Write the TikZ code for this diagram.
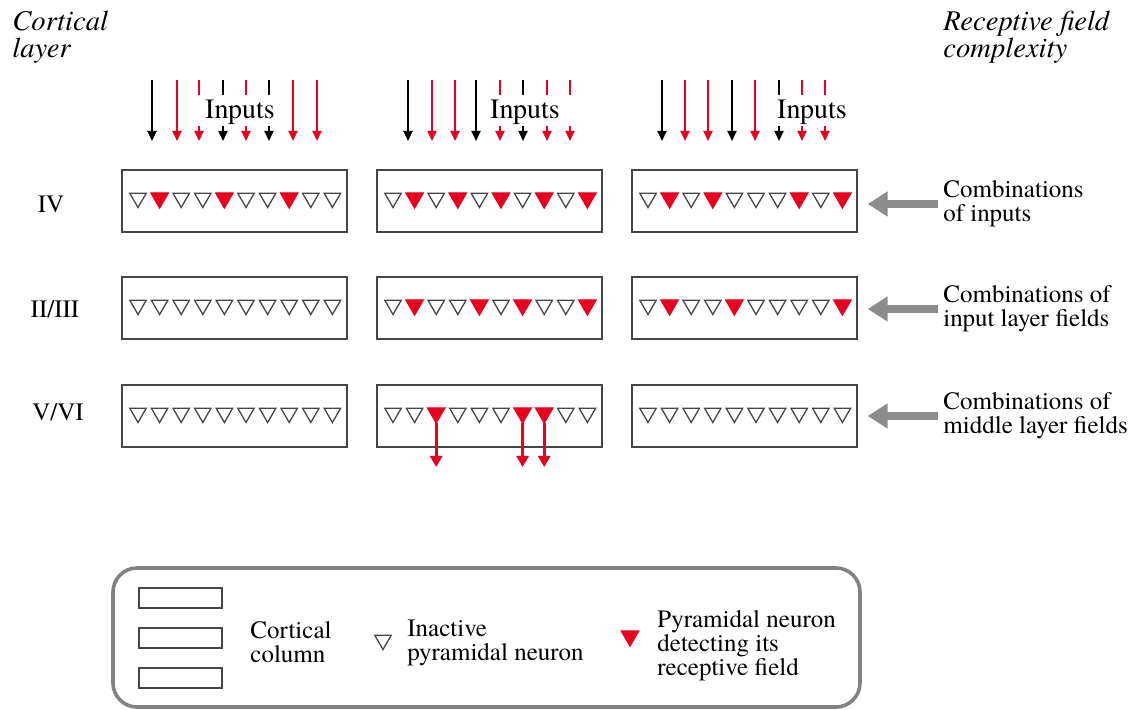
\documentclass[tikz,border=0pt]{standalone}
\usepackage{fontspec}
\setmainfont{TeX Gyre Termes}
\usetikzlibrary{shapes.geometric,arrows.meta}
\definecolor{nred}{RGB}{232,0,30}
\definecolor{edge}{RGB}{70,70,70}
\definecolor{pointer}{RGB}{140,140,140}
\definecolor{frame}{RGB}{130,130,130}

\begin{document}
\begin{tikzpicture}[x=0.5pt,y=-0.5pt,
  txt/.style={inner sep=0pt, align=left, font=\fontsize{12.5}{12}\selectfont},
  head/.style={inner sep=0pt, align=left, font=\fontsize{14.3}{13.5}\selectfont\itshape},
  colbox/.style={draw=edge, line width=0.7pt, minimum width=112.5pt, minimum height=31pt, inner sep=0pt},
  tri0/.style={regular polygon, regular polygon sides=3, shape border rotate=180,
    draw=edge, line width=0.65pt, minimum size=9.5pt, inner sep=0pt, outer sep=0pt},
  tri1/.style={tri0, draw=nred, fill=nred, minimum size=10pt},
  feed/.style={line width=1pt, -{Triangle[width=4.5pt,length=5pt]}},
  stub/.style={line width=1pt},
  fire/.style={nred, line width=1.5pt, -{Triangle[width=6pt,length=5.5pt]}},
  hint/.style={pointer, line width=4pt, -{Triangle[width=12pt,length=10pt]}},
  legbox/.style={draw=edge, line width=0.7pt, minimum width=41.5pt, minimum height=10pt, inner sep=0pt},
]
\useasboundingbox (0,0) rectangle (1134,710);

% headings
\node[head, anchor=north west] (hl) at (12,11) {Cortical\\layer};
\node[head, anchor=north west] (hr) at (943,11) {Receptive field\\complexity};

% layer names
\node[txt, anchor=base] (l1) at (51,213) {IV};
\node[txt, anchor=base] (l2) at (55,318) {II/III};
\node[txt, anchor=base] (l3) at (58,421) {V/VI};

% columns: row / top edge / column / left edge / activity pattern
\foreach \r/\ry in {1/170, 2/277, 3/385} {
  \foreach \c/\cx in {1/122, 2/377, 3/632} {
    \node[colbox] (b-\r-\c) at ({\cx+112.5},{\ry+31}) {};
  }
}
\foreach \r/\ry/\c/\cx/\pat in {
  1/170/1/122/{0,1,0,0,1,0,0,1,0,0},
  1/170/2/377/{0,1,0,1,0,1,0,1,0,1},
  1/170/3/632/{0,1,0,1,0,0,0,1,0,1},
  2/277/1/122/{0,0,0,0,0,0,0,0,0,0},
  2/277/2/377/{0,1,0,0,1,0,1,0,0,1},
  2/277/3/632/{0,1,0,0,1,0,0,0,0,1},
  3/385/1/122/{0,0,0,0,0,0,0,0,0,0},
  3/385/2/377/{0,0,1,0,0,0,1,1,0,0},
  3/385/3/632/{0,0,0,0,0,0,0,0,0,0}} {
  \foreach \v [count=\i from 0] in \pat {
    \node[tri\v] (t-\r-\c-\i) at ({\cx+16+21.6*\i},{\ry+28}) {};
  }
}

% inputs arriving at layer IV
\foreach \x/\cl/\k in {
  152/black/L, 177/nred/L, 199/nred/B, 223/black/B, 246/nred/B, 269/black/B, 293/nred/L, 317/nred/L,
  408/black/L, 432/nred/L, 455/nred/L, 476/black/L, 500/nred/B, 523/black/B, 547/nred/B, 570/nred/B,
  662/black/L, 685/nred/L, 708/nred/L, 732/black/L, 755/nred/L, 779/black/B, 802/nred/B, 825/nred/B} {
  \coordinate (s\x) at (\x,80);
  \coordinate (e\x) at (\x,141);
  \if\k L
    \draw[feed,\cl] (s\x) -- (e\x);
  \else
    \draw[stub,\cl] (s\x) -- (\x,95);
    \draw[feed,\cl] (\x,126) -- (e\x);
  \fi
}
\foreach \c/\x in {1/240, 2/525, 3/812} {
  \node[anchor=base, inner sep=0pt, font=\fontsize{14}{14}\selectfont] (in\c) at (\x,119) {Inputs};
}

% outputs leaving layer V/VI
\foreach \i in {2,6,7} {
  \draw[fire] (t-3-2-\i.south) -- ++(0,44);
}

% receptive field complexity
\node[txt, anchor=west] (rt1) at (943,204) {Combinations\\of inputs};
\node[txt, anchor=west] (rt2) at (943,309) {Combinations of\\input layer fields};
\node[txt, anchor=west] (rt3) at (943,416) {Combinations of\\middle layer fields};
\foreach \r in {1,2,3} {
  \draw[hint, shorten <=2.5pt, shorten >=5pt] (rt\r.west) -- (rt\r.west -| b-\r-3.east);
}

% legend
\draw[frame, line width=1.8pt, rounded corners=12pt] (113,568) rectangle (860,707);
\node[legbox] (g1) at (180.5,598) {};
\node[legbox] (g2) at (180.5,638) {};
\node[legbox] (g3) at (180.5,678) {};
\node[txt, anchor=west] (gt1) at (250,642) {Cortical\\column};
\node[tri0] (gi) at (383,640) {};
\node[txt, anchor=west] (gt2) at (407,643) {Inactive\\pyramidal neuron};
\node[tri1] (ga) at (630,636) {};
\node[txt, anchor=west] (gt3) at (657,646) {Pyramidal neuron\\detecting its\\receptive field};
\end{tikzpicture}
\end{document}
